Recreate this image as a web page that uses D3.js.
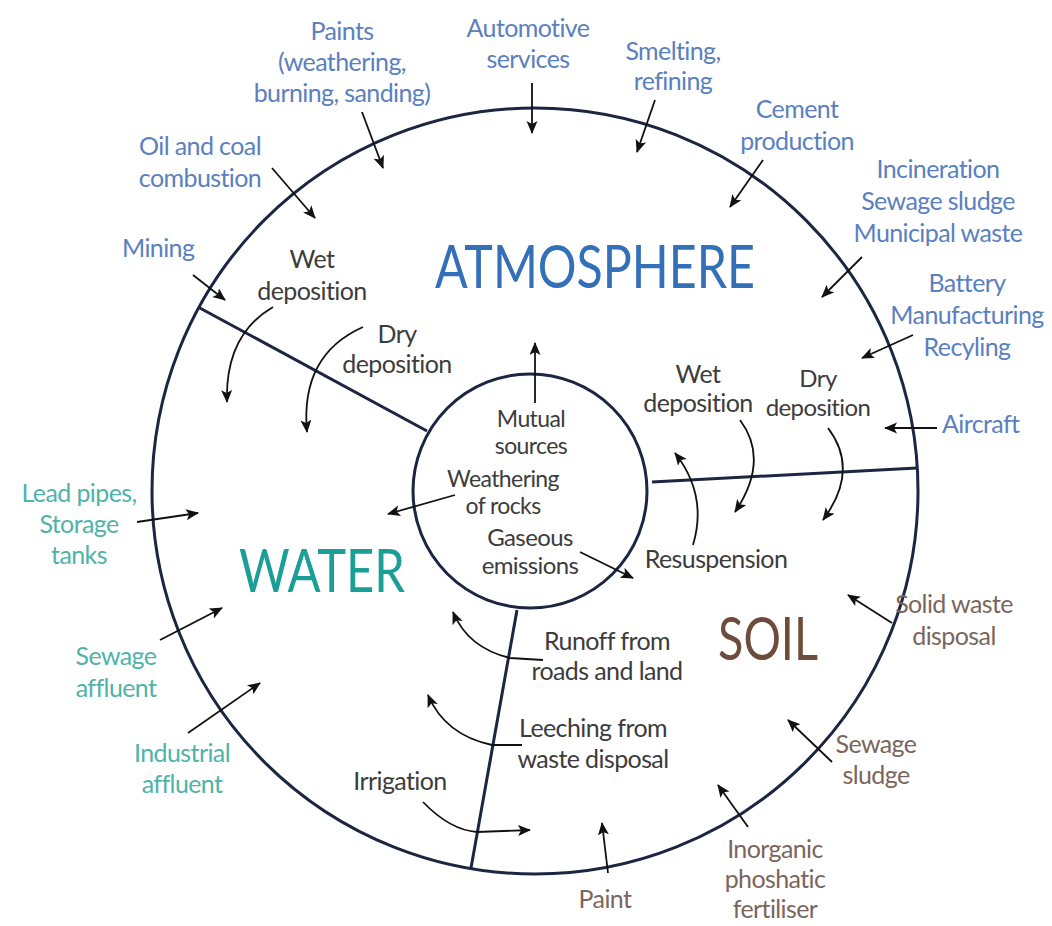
<!DOCTYPE html>
<head>
  <meta charset="utf-8">
  <script src="https://d3js.org/d3.v7.min.js"></script>
  <style>
    body { margin:0; background:#fff; }
    text { font-family: Lato, "Open Sans", sans-serif; }
  </style>
</head>
<body>
<script>
    const W = 1052, H = 926;

    // ---- data: labels of the diagram ----
    const compartments = ["ATMOSPHERE", "WATER", "SOIL"];
    const atmosphereSources = [
        "Paints|(weathering,|burning, sanding)", "Automotive|services", "Smelting,|refining",
        "Cement|production", "Incineration|Sewage sludge|Municipal waste",
        "Battery|Manufacturing|Recyling", "Aircraft", "Mining", "Oil and coal|combustion"
    ];
    const waterSources = ["Lead pipes,|Storage|tanks", "Sewage|affluent", "Industrial|affluent"];
    const soilSources = ["Solid waste|disposal", "Sewage|sludge", "Inorganic|phoshatic|fertiliser", "Paint"];
    const exchanges = [
        "Wet|deposition", "Dry|deposition", "Mutual|sources", "Weathering|of rocks",
        "Gaseous|emissions", "Resuspension", "Wet|deposition", "Dry|deposition",
        "Runoff from|roads and land", "Leeching from|waste disposal", "Irrigation"
    ];

    // ---- layout ----
    const outer = {cx: 535, cy: 491, r: 383};
    const inner = {cx: 530, cy: 491, r: 117};
    const dividers = [[[198, 307], [427, 431]], [[652, 482], [917, 468]], [[517, 610], [471, 868]]];

    const headingPos = [
        {x: 595, y: 288, w: 320, c: "#3470b8"},
        {x: 322, y: 592, w: 166, c: "#1a9e95"},
        {x: 768, y: 660, w: 100, c: "#6e4c3c"}
    ];

    const atmoPos = [
        {x: 342, y: 40, lh: 31, a: [[362,112],[383,168]]},
        {x: 528, y: 37, lh: 31, a: [[532,83],[532,133]]},
        {x: 673, y: 60, lh: 30, a: [[655,100],[637,152]]},
        {x: 797, y: 118, lh: 32, a: [[763,160],[730,207]]},
        {x: 938, y: 178, lh: 32, a: [[862,257],[822,297]]},
        {x: 967, y: 292, lh: 32, a: [[913,335],[862,358]]},
        {x: 942, y: 433, lh: 32, anchor: "start", a: [[937,428],[885,428]]},
        {x: 122, y: 257, lh: 32, anchor: "start", a: [[193,275],[225,300]]},
        {x: 200, y: 155, lh: 32, a: [[272,168],[315,218]]}
    ];
    const waterPos = [
        {x: 79, y: 502, lh: 31, a: [[137,522],[198,513]]},
        {x: 116, y: 665, lh: 32, a: [[160,640],[222,608]]},
        {x: 182, y: 762, lh: 31, a: [[188,733],[260,683]]}
    ];
    const soilPos = [
        {x: 954, y: 613, lh: 32, a: [[892,623],[848,595]]},
        {x: 876, y: 753, lh: 31, a: [[832,762],[788,720]]},
        {x: 775, y: 858, lh: 30, a: [[748,827],[718,785]]},
        {x: 605, y: 908, lh: 30, a: [[608,873],[602,823]]}
    ];
    // arrows: M start, then L point or Q control+end
    const exchangePos = [
        {x: 312, y: 268, lh: 32, a: [["M",273,307],["Q",225,335,227,402]]},
        {x: 397, y: 343, lh: 30, a: [["M",363,327],["Q",300,355,307,432]]},
        {x: 531, y: 427, lh: 27, fs: 23, a: [["M",535,403],["L",535,343]]},
        {x: 503, y: 487, lh: 27, fs: 23, a: [["M",455,495],["L",388,514]]},
        {x: 530, y: 546, lh: 28, fs: 24, a: [["M",580,552],["L",633,578]]},
        {x: 716, y: 568, lh: 28, a: [["M",693,545],["Q",708,495,675,453]]},
        {x: 698, y: 383, lh: 29, a: [["M",740,420],["Q",770,460,735,512]]},
        {x: 818, y: 387, lh: 29, fs: 24, a: [["M",828,428],["Q",860,470,823,520]]},
        {x: 607, y: 650, lh: 30, a: [["M",543,660],["L",510,658],["Q",468,648,453,612]]},
        {x: 593, y: 737, lh: 31, a: [["M",522,745],["L",492,745],["Q",445,735,428,695]]},
        {x: 400, y: 790, lh: 30, a: [["M",423,802],["Q",450,830,477,832],["L",530,830]]}
    ];

    const lineColor = "#1c2541";
    const labelSize = 25;

    const svg = d3.select("body").append("svg")
        .attr("width", W)
        .attr("height", H);

    svg.append("defs").append("marker")
        .attr("id", "head")
        .attr("markerUnits", "userSpaceOnUse")
        .attr("markerWidth", 14).attr("markerHeight", 12)
        .attr("refX", 12).attr("refY", 5.5)
        .attr("orient", "auto")
      .append("path")
        .attr("d", "M0,0L13,5.5L0,11L3,5.5Z")
        .attr("fill", "#111");

    // circles and dividers
    svg.selectAll(".ring")
        .data([outer, inner])
        .enter().append("circle")
        .attr("class", "ring")
        .attr("cx", d => d.cx).attr("cy", d => d.cy).attr("r", d => d.r)
        .attr("fill", "none")
        .attr("stroke", lineColor)
        .attr("stroke-width", 3);

    svg.selectAll(".divider")
        .data(dividers)
        .enter().append("line")
        .attr("class", "divider")
        .attr("x1", d => d[0][0]).attr("y1", d => d[0][1])
        .attr("x2", d => d[1][0]).attr("y2", d => d[1][1])
        .attr("stroke", lineColor)
        .attr("stroke-width", 3);

    // headings
    svg.selectAll(".heading")
        .data(compartments)
        .enter().append("text")
        .attr("class", "heading")
        .attr("x", (d, i) => headingPos[i].x - headingPos[i].w / 2)
        .attr("y", (d, i) => headingPos[i].y)
        .attr("font-size", 60)
        .attr("textLength", (d, i) => headingPos[i].w)
        .attr("lengthAdjust", "spacingAndGlyphs")
        .attr("fill", (d, i) => headingPos[i].c)
        .text(d => d);

    function pathOf(a) {
        const p = d3.path();
        if (typeof a[0][0] === "number") {
            p.moveTo(a[0][0], a[0][1]);
            p.lineTo(a[1][0], a[1][1]);
            return p.toString();
        }
        a.forEach(s => {
            if (s[0] === "M") p.moveTo(s[1], s[2]);
            else if (s[0] === "L") p.lineTo(s[1], s[2]);
            else p.quadraticCurveTo(s[1], s[2], s[3], s[4]);
        });
        return p.toString();
    }

    function drawGroup(cls, labels, pos, color) {
        const g = svg.append("g").attr("class", cls);
        g.selectAll("path")
            .data(pos)
            .enter().append("path")
            .attr("d", d => pathOf(d.a))
            .attr("fill", "none")
            .attr("stroke", "#111")
            .attr("stroke-width", 1.8)
            .attr("marker-end", "url(#head)");
        const t = g.selectAll("text")
            .data(labels)
            .enter().append("text")
            .attr("text-anchor", (d, i) => pos[i].anchor || "middle")
            .attr("font-size", (d, i) => pos[i].fs || labelSize)
            .attr("letter-spacing", -0.6)
            .attr("fill", color);
        t.each(function(d, i) {
            const p = pos[i];
            d3.select(this).selectAll("tspan")
                .data(d.split("|"))
                .enter().append("tspan")
                .attr("x", p.x)
                .attr("y", (s, j) => p.y + j * p.lh)
                .text(s => s);
        });
    }

    drawGroup("atmo", atmosphereSources, atmoPos, "#5a80c0");
    drawGroup("water", waterSources, waterPos, "#4fb3a8");
    drawGroup("soil", soilSources, soilPos, "#7a665c");
    drawGroup("exch", exchanges, exchangePos, "#3c3c3c");
</script>
</body>
